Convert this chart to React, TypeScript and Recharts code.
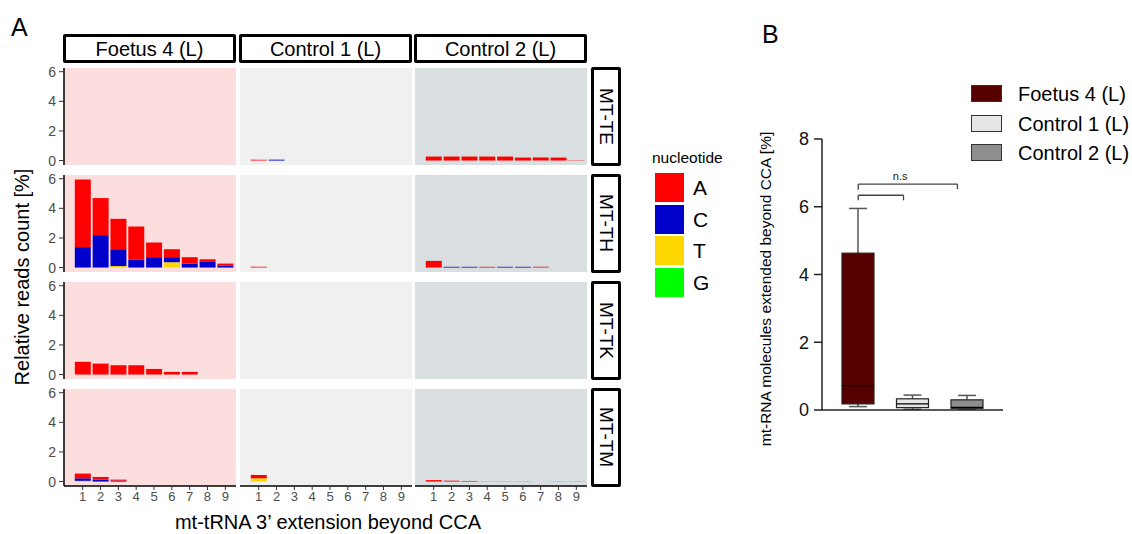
import React from 'react';
import {
  BarChart,
  Bar,
  XAxis,
  YAxis,
  CartesianGrid,
  ComposedChart,
  ReferenceLine,
  ReferenceDot,
} from 'recharts';

// ---------------- Panel A data ----------------
const positions = [1, 2, 3, 4, 5, 6, 7, 8, 9];
const samples = ['Foetus 4 (L)', 'Control 1 (L)', 'Control 2 (L)'];
const trnas = ['MT-TE', 'MT-TH', 'MT-TK', 'MT-TM'];
const nucleotides = ['A', 'C', 'T', 'G'];
const yTicksA = [0, 2, 4, 6];
const none = [0, 0, 0, 0, 0, 0, 0, 0, 0];

// MT-TE
const teControl1A = [0.06, 0, 0, 0, 0, 0, 0, 0, 0];
const teControl1C = [0, 0.06, 0, 0, 0, 0, 0, 0, 0];
const teControl2A = [0.27, 0.27, 0.27, 0.27, 0.27, 0.2, 0.2, 0.2, 0.02];

// MT-TH
const thFoetusA = [4.57, 2.5, 2.05, 2.25, 0.99, 0.54, 0.43, 0.18, 0.13];
const thFoetusC = [1.38, 2.19, 1.14, 0.52, 0.7, 0.34, 0.27, 0.38, 0.14];
const thFoetusT = [0, 0, 0.1, 0, 0, 0.36, 0, 0, 0];
const thControl1A = [0.06, 0, 0, 0, 0, 0, 0, 0, 0];
const thControl2A = [0.45, 0, 0, 0.05, 0, 0, 0.05, 0, 0];
const thControl2C = [0, 0.05, 0.05, 0, 0.05, 0.05, 0, 0, 0];

// MT-TK
const tkFoetusA = [0.86, 0.74, 0.63, 0.63, 0.38, 0.18, 0.18, 0, 0];

// MT-TM
const tmFoetusA = [0.32, 0.18, 0.07, 0, 0, 0, 0, 0, 0];
const tmFoetusC = [0.17, 0.13, 0.06, 0, 0, 0, 0, 0, 0];
const tmFoetusT = [0.05, 0, 0, 0, 0, 0, 0, 0, 0];
const tmControl1A = [0.23, 0, 0, 0, 0, 0, 0, 0, 0];
const tmControl1T = [0.22, 0, 0, 0, 0, 0, 0, 0, 0];
const tmControl2A = [0.1, 0.06, 0.04, 0.01, 0.01, 0.01, 0.01, 0.01, 0.01];

type NucSet = { A: number[]; C: number[]; T: number[]; G: number[] };
const panelData: NucSet[][] = [
  [
    { A: none, C: none, T: none, G: none },
    { A: teControl1A, C: teControl1C, T: none, G: none },
    { A: teControl2A, C: none, T: none, G: none },
  ],
  [
    { A: thFoetusA, C: thFoetusC, T: thFoetusT, G: none },
    { A: thControl1A, C: none, T: none, G: none },
    { A: thControl2A, C: thControl2C, T: none, G: none },
  ],
  [
    { A: tkFoetusA, C: none, T: none, G: none },
    { A: none, C: none, T: none, G: none },
    { A: none, C: none, T: none, G: none },
  ],
  [
    { A: tmFoetusA, C: tmFoetusC, T: tmFoetusT, G: none },
    { A: tmControl1A, C: none, T: tmControl1T, G: none },
    { A: tmControl2A, C: none, T: none, G: none },
  ],
];

// ---------------- Panel B data ----------------
const bGroups = ['Foetus 4 (L)', 'Control 1 (L)', 'Control 2 (L)'];
const bPos = [1, 2, 3];
const bMin = [0.1, 0.02, 0.02];
const bQ1 = [0.18, 0.07, 0.05];
const bMedian = [0.72, 0.18, 0.08];
const bQ3 = [4.63, 0.33, 0.3];
const bMax = [5.95, 0.44, 0.43];
const bYTicks = [0, 2, 4, 6, 8];
const bracketInner = { x1: 1, x2: 1.83, y: 6.34, yLeft: 6.19, yRight: 6.19 };
const bracketOuter = { x1: 1, x2: 2.82, y: 6.67, yLeft: 6.5, yRight: 6.52 };
const nsLabel = { x: 1.77, y: 6.67, text: 'n.s' };

// ---------------- Styles ----------------
const FONT = '"Liberation Sans", Arial, Helvetica, sans-serif';
const NUC_COLORS: Record<string, string> = {
  A: '#FF0000',
  C: '#0000CD',
  T: '#FFD700',
  G: '#00FF00',
};
const PANEL_BG = ['#FDDEDF', '#F0F0F0', '#D9DEE0'];
const B_FILLS = ['#560000', '#E6E6E6', '#8E8E8E'];

const COL_X = [64, 240, 415];
const ROW_Y = [68, 175, 282, 389];
const PW = 172;
const PH = 97;
const YW = 34;
const XH = 30;
const PAD = 8;

function Panel({ r, c }: { r: number; c: number }) {
  const set = panelData[r][c];
  const data = positions.map((p, i) => ({
    pos: p,
    A: set.A[i],
    C: set.C[i],
    T: set.T[i],
    G: set.G[i],
  }));
  const showY = c === 0;
  const showX = r === 3;
  const width = PW + (showY ? YW : 0);
  const height = PH + PAD + (showX ? XH : PAD);
  return (
    <div style={{ position: 'absolute', left: COL_X[c] - (showY ? YW : 0), top: ROW_Y[r] - PAD }}>
      <BarChart
        width={width}
        height={height}
        data={data}
        margin={{ top: PAD, right: 0, bottom: showX ? 0 : PAD, left: 0 }}
        barSize={16}
      >
        <CartesianGrid fill={PANEL_BG[c]} stroke="none" horizontal={false} vertical={false} />
        <XAxis
          type="number"
          dataKey="pos"
          domain={[-0.05, 9.6]}
          allowDataOverflow
          ticks={positions}
          interval={0}
          hide={!showX}
          height={XH}
          tickSize={4}
          tickMargin={2}
          axisLine={{ stroke: '#000', strokeWidth: 1.5 }}
          tickLine={{ stroke: '#333' }}
          tick={{ fontSize: 13, fill: '#4d4d4d', fontFamily: FONT }}
        />
        <YAxis
          type="number"
          domain={[-0.3, 6.25]}
          allowDataOverflow
          ticks={yTicksA}
          interval={0}
          hide={!showY}
          width={YW}
          tickSize={5}
          tickMargin={3}
          axisLine={{ stroke: '#000', strokeWidth: 1.5 }}
          tickLine={{ stroke: '#333' }}
          tick={{ fontSize: 14, fill: '#4d4d4d', fontFamily: FONT }}
        />
        {['G', 'T', 'C', 'A'].map((n) => (
          <Bar key={n} dataKey={n} stackId="s" fill={NUC_COLORS[n]} isAnimationActive={false} />
        ))}
      </BarChart>
    </div>
  );
}

const BoxShape = (props: any) => {
  const { x, y, width, height, payload } = props;
  const { min, max, q1, q3, median, fill } = payload;
  const top = Math.min(y, y + height);
  const h = Math.abs(height);
  const py = (v: number) => top + (h * (max - v)) / (max - min);
  const cx = x + width / 2;
  const cap = width * 0.56;
  const wStroke = '#555';
  return (
    <g>
      <line x1={cx} x2={cx} y1={py(max)} y2={py(q3)} stroke={wStroke} strokeWidth={1.5} />
      <line x1={cx - cap / 2} x2={cx + cap / 2} y1={py(max)} y2={py(max)} stroke={wStroke} strokeWidth={1.5} />
      <line x1={cx} x2={cx} y1={py(q1)} y2={py(min)} stroke={wStroke} strokeWidth={1.5} />
      <line x1={cx - cap / 2} x2={cx + cap / 2} y1={py(min)} y2={py(min)} stroke={wStroke} strokeWidth={1.5} />
      <rect
        x={x}
        y={py(q3)}
        width={width}
        height={Math.max(py(q1) - py(q3), 0.5)}
        fill={fill}
        stroke="#222"
        strokeWidth={1.2}
      />
      <line x1={x} x2={x + width} y1={py(median)} y2={py(median)} stroke="#000" strokeWidth={1.2} />
    </g>
  );
};

function PanelB() {
  const data = bGroups.map((g, i) => ({
    name: g,
    pos: bPos[i],
    range: [bMin[i], bMax[i]],
    min: bMin[i],
    q1: bQ1[i],
    median: bMedian[i],
    q3: bQ3[i],
    max: bMax[i],
    fill: B_FILLS[i],
  }));
  const bStroke = { stroke: '#444', strokeWidth: 1.3 };
  return (
    <div style={{ position: 'absolute', left: 780, top: 120 }}>
      <ComposedChart
        width={223}
        height={310}
        data={data}
        margin={{ top: 19, right: 0, bottom: 0, left: 0 }}
        barSize={32}
      >
        <XAxis
          type="number"
          dataKey="pos"
          domain={[0.335, 3.656]}
          allowDataOverflow
          ticks={bPos}
          interval={0}
          tick={false}
          height={20}
          tickSize={6}
          axisLine={{ stroke: '#222', strokeWidth: 1.5 }}
          tickLine={{ stroke: '#222', strokeWidth: 1.5 }}
        />
        <YAxis
          type="number"
          domain={[0, 8]}
          allowDataOverflow
          ticks={bYTicks}
          interval={0}
          width={42}
          tickSize={8}
          tickMargin={5}
          axisLine={{ stroke: '#222', strokeWidth: 1.5 }}
          tickLine={{ stroke: '#222', strokeWidth: 1.5 }}
          tick={{ fontSize: 18, fill: '#111', fontFamily: FONT }}
        />
        <Bar dataKey="range" shape={BoxShape} isAnimationActive={false} />
        {[bracketInner, bracketOuter].map((b, i) => (
          <React.Fragment key={i}>
            <ReferenceLine segment={[{ x: b.x1, y: b.yLeft }, { x: b.x1, y: b.y }]} {...bStroke} />
            <ReferenceLine segment={[{ x: b.x1, y: b.y }, { x: b.x2, y: b.y }]} {...bStroke} />
            <ReferenceLine segment={[{ x: b.x2, y: b.y }, { x: b.x2, y: b.yRight }]} {...bStroke} />
          </React.Fragment>
        ))}
        <ReferenceDot
          x={nsLabel.x}
          y={nsLabel.y}
          r={0}
          fill="none"
          stroke="none"
          label={{ value: nsLabel.text, position: 'top', offset: 4, fontSize: 11, fill: '#222', fontFamily: FONT }}
        />
      </ComposedChart>
    </div>
  );
}

export default function App() {
  const abs = (s: React.CSSProperties): React.CSSProperties => ({ position: 'absolute', ...s });
  return (
    <div
      style={{
        position: 'absolute',
        left: 0,
        top: 0,
        width: 1132,
        height: 534,
        background: '#fff',
        fontFamily: FONT,
        color: '#000',
        overflow: 'hidden',
      }}
    >
      {/* Panel letters */}
      <div style={abs({ left: 11, top: 15, fontSize: 25, lineHeight: '25px' })}>A</div>
      <div style={abs({ left: 762, top: 22, fontSize: 25, lineHeight: '25px' })}>B</div>

      {/* Column strips */}
      {samples.map((s, c) => (
        <div
          key={s}
          style={abs({
            left: COL_X[c] - 1,
            top: 34,
            width: PW + 1,
            height: 29,
            border: '3px solid #000',
            borderRadius: 2,
            boxSizing: 'border-box',
            display: 'flex',
            alignItems: 'center',
            justifyContent: 'center',
            fontSize: 20,
            lineHeight: '20px',
          })}
        >
          {s}
        </div>
      ))}

      {/* Row strips */}
      {trnas.map((t, r) => (
        <div
          key={t}
          style={abs({
            left: 591,
            top: ROW_Y[r] - 1,
            width: 30,
            height: PH + 2,
            border: '3px solid #000',
            borderRadius: 2,
            boxSizing: 'border-box',
            display: 'flex',
            alignItems: 'center',
            justifyContent: 'center',
            fontSize: 19,
          })}
        >
          <span style={{ writingMode: 'vertical-rl', lineHeight: '19px' }}>{t}</span>
        </div>
      ))}

      {/* Panels */}
      {trnas.map((t, r) => samples.map((s, c) => <Panel key={t + s} r={r} c={c} />))}

      {/* Axis titles A */}
      <div
        style={abs({
          left: 22,
          top: 277,
          transform: 'translate(-50%, -50%) rotate(-90deg)',
          whiteSpace: 'nowrap',
          fontSize: 20,
        })}
      >
        Relative reads count [%]
      </div>
      <div
        style={abs({
          left: 328,
          top: 522,
          transform: 'translate(-50%, -50%)',
          whiteSpace: 'nowrap',
          fontSize: 20,
        })}
      >
        mt-tRNA 3’ extension beyond CCA
      </div>

      {/* Legend A */}
      <div style={abs({ left: 652, top: 149, fontSize: 15.5, lineHeight: '18px' })}>nucleotide</div>
      {nucleotides.map((n, i) => (
        <React.Fragment key={n}>
          <div
            style={abs({
              left: 655,
              top: 173 + i * 31.5,
              width: 29,
              height: 29,
              background: NUC_COLORS[n],
            })}
          />
          <div
            style={abs({
              left: 693,
              top: 173 + i * 31.5,
              height: 29,
              lineHeight: '29px',
              fontSize: 21,
            })}
          >
            {n}
          </div>
        </React.Fragment>
      ))}

      {/* Panel B */}
      <PanelB />
      <div
        style={abs({
          left: 766,
          top: 289,
          transform: 'translate(-50%, -50%) rotate(-90deg)',
          whiteSpace: 'nowrap',
          fontSize: 15.5,
        })}
      >
        mt-RNA molecules extended beyond CCA [%]
      </div>

      {/* Legend B */}
      {bGroups.map((g, i) => (
        <React.Fragment key={g}>
          <div
            style={abs({
              left: 971,
              top: 85 + i * 29.5,
              width: 31,
              height: 17,
              background: B_FILLS[i],
              border: '1.5px solid #333',
              boxSizing: 'border-box',
            })}
          />
          <div
            style={abs({
              left: 1018,
              top: 85 + i * 29.5 - 4,
              height: 27,
              lineHeight: '27px',
              fontSize: 20,
              whiteSpace: 'nowrap',
            })}
          >
            {g}
          </div>
        </React.Fragment>
      ))}
    </div>
  );
}
